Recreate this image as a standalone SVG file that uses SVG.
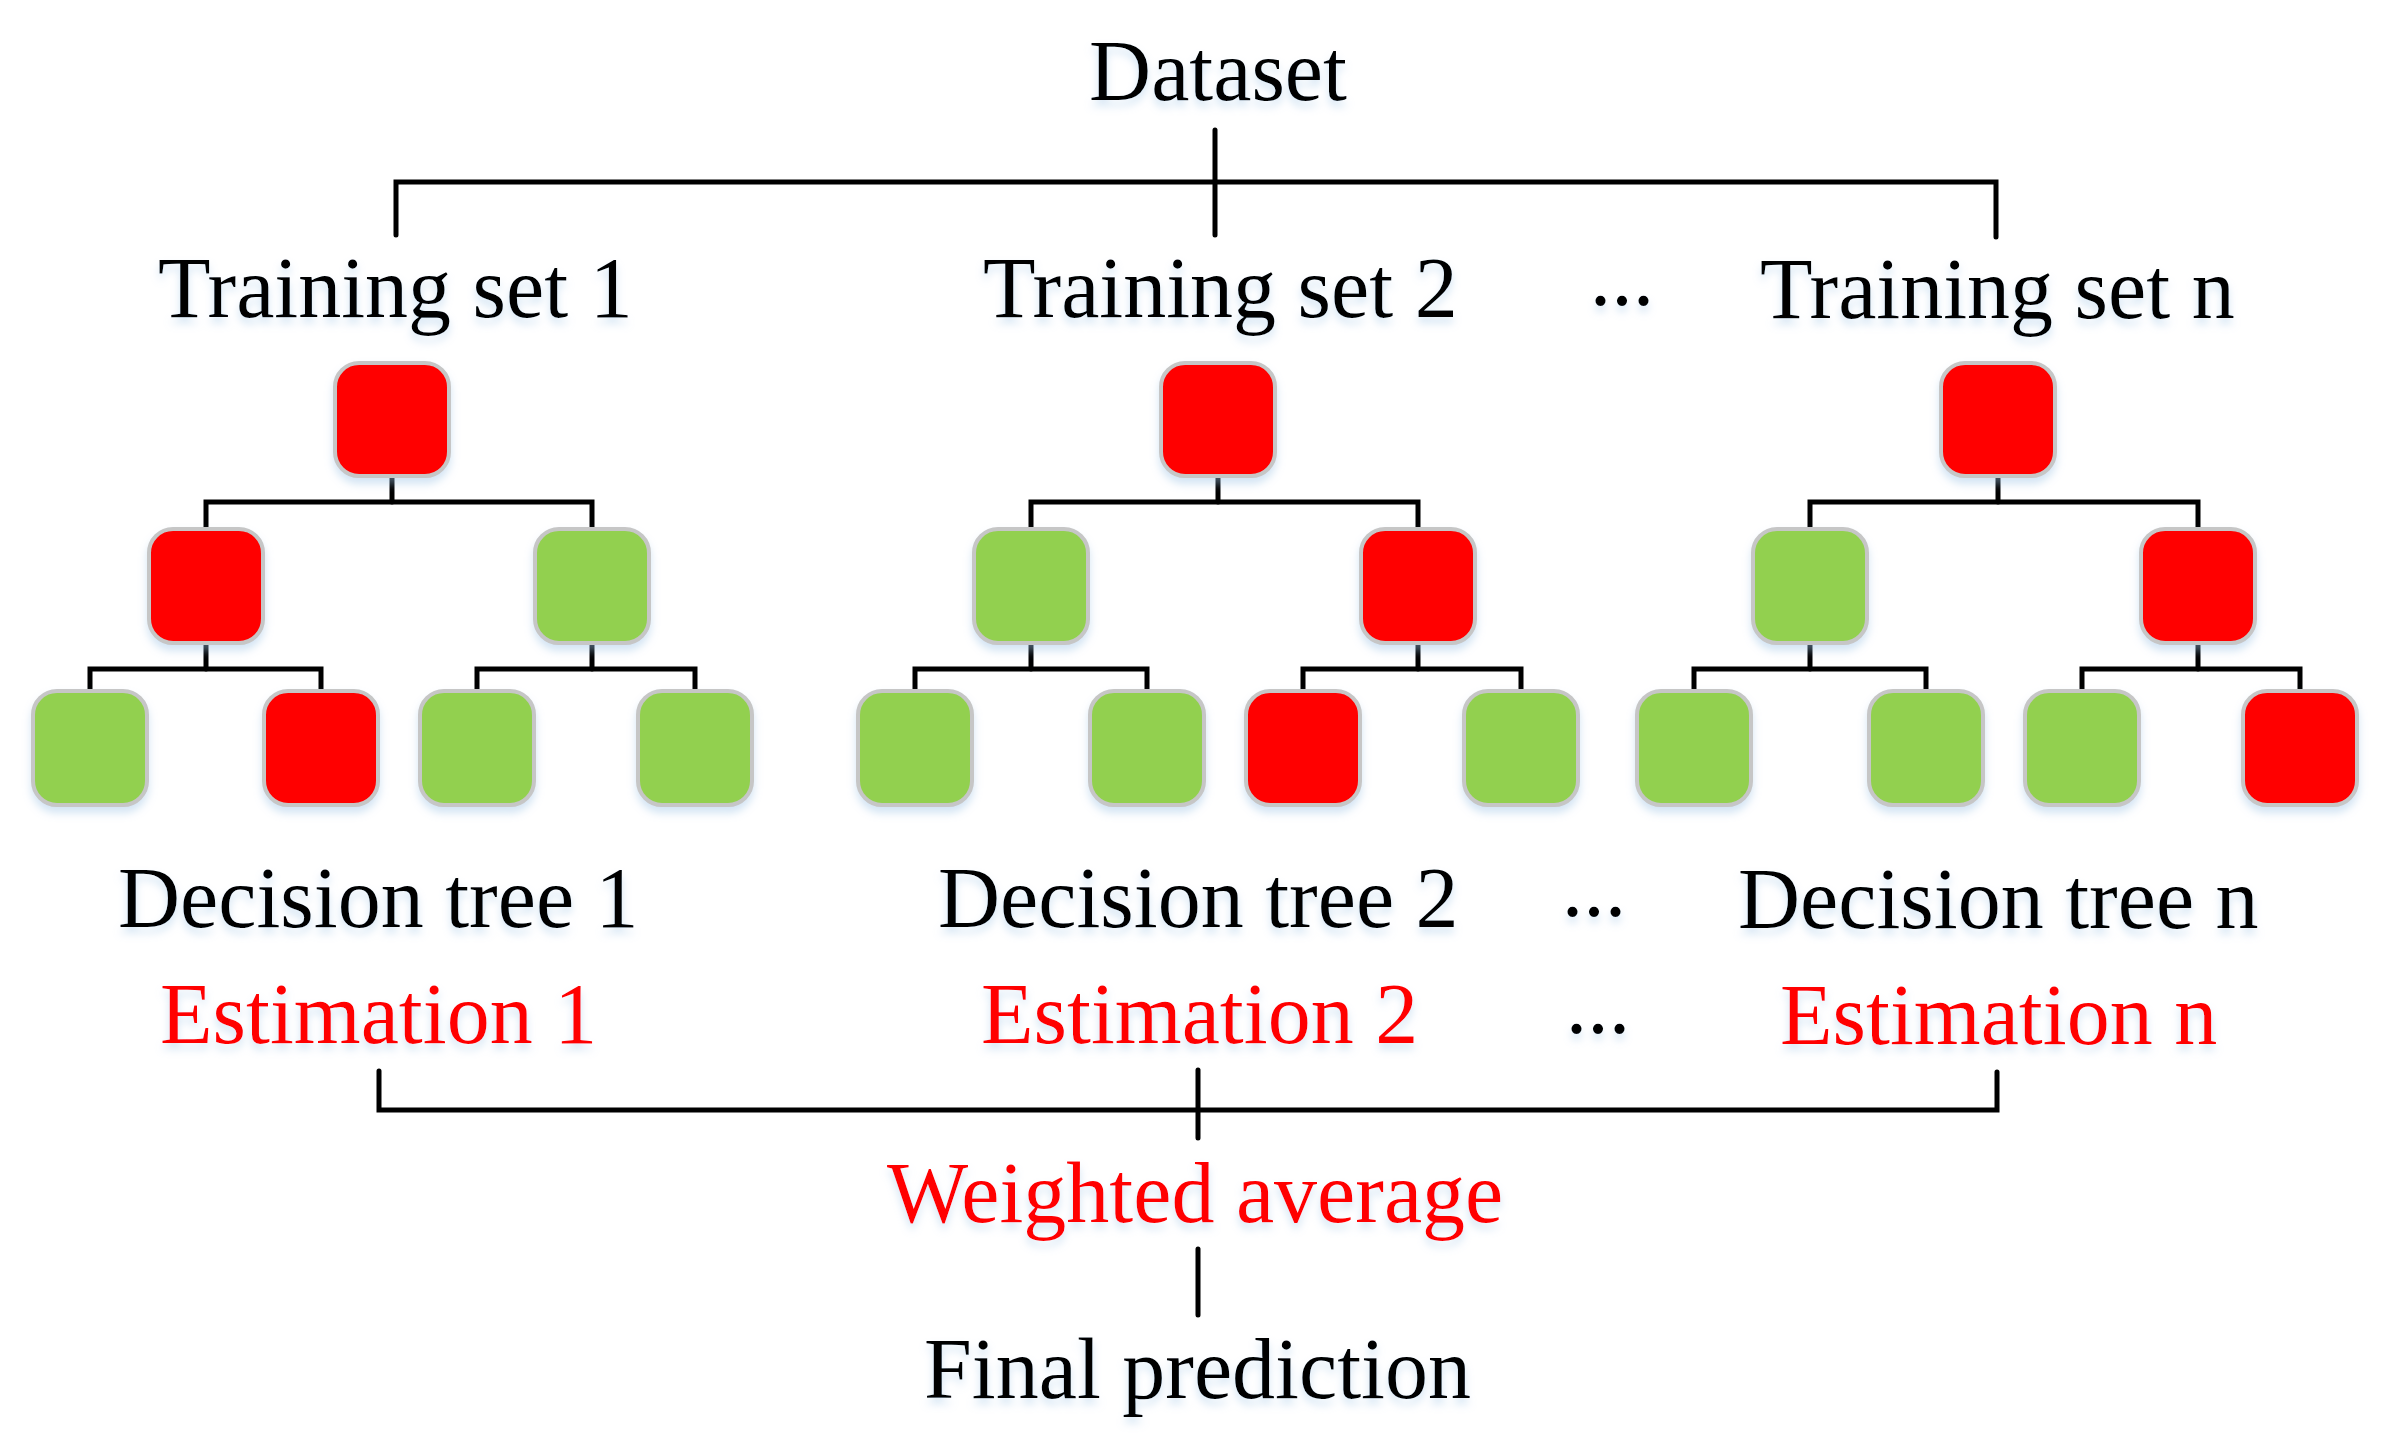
<svg xmlns="http://www.w3.org/2000/svg" width="2387" height="1454" viewBox="0 0 2387 1454">
<defs>
<filter id="sh" x="-20%" y="-20%" width="140%" height="160%">
<feGaussianBlur in="SourceAlpha" stdDeviation="4"/>
<feOffset dy="6" result="b"/>
<feFlood flood-color="#9dc3e6" flood-opacity="0.45"/>
<feComposite in2="b" operator="in"/>
<feMerge><feMergeNode/><feMergeNode in="SourceGraphic"/></feMerge>
</filter>
</defs>
<style>
.t{font-family:"Liberation Serif","Times New Roman",serif;font-size:86px;fill:#000}
.r{fill:#ff0000}
.n{stroke:#c6c6c6;stroke-width:4;filter:url(#sh)}
.red{fill:#ff0000}
.grn{fill:#92d050}
.c{fill:none;stroke:#000;stroke-width:5;stroke-linejoin:miter;stroke-linecap:round}
text{filter:url(#sh)}
</style>
<rect width="2387" height="1454" fill="#fff"/>

<g id="connectors" class="c">
<path d="M396,235 V182 H1996 V237"/>
<path d="M1215,130 V235"/>
<path d="M379,1071 V1110 H1997 V1072"/>
<path d="M1198,1070 V1138"/>
<path d="M1198,1249 V1315"/>
<!-- tree 1 -->
<path d="M392,477 V502"/><path d="M206,529 V502 H592 V529"/>
<path d="M206,645 V669"/><path d="M90,691 V669 H321 V691"/>
<path d="M592,645 V669"/><path d="M477,691 V669 H695 V691"/>
<!-- tree 2 -->
<path d="M1218,477 V502"/><path d="M1031,529 V502 H1418 V529"/>
<path d="M1031,645 V669"/><path d="M915,691 V669 H1147 V691"/>
<path d="M1418,645 V669"/><path d="M1303,691 V669 H1521 V691"/>
<!-- tree 3 -->
<path d="M1998,477 V502"/><path d="M1810,529 V502 H2198 V529"/>
<path d="M1810,645 V669"/><path d="M1694,691 V669 H1926 V691"/>
<path d="M2198,645 V669"/><path d="M2082,691 V669 H2300 V691"/>
</g>

<g id="tree1">
<g id="t1-root"><rect class="n red" x="335" y="363" width="114" height="113" rx="24"/></g>
<g id="t1-l"><rect class="n red" x="149" y="529" width="114" height="114" rx="24"/></g>
<g id="t1-r"><rect class="n grn" x="535" y="529" width="114" height="114" rx="24"/></g>
<g id="t1-ll"><rect class="n grn" x="33" y="691" width="114" height="114" rx="24"/></g>
<g id="t1-lr"><rect class="n red" x="264" y="691" width="114" height="114" rx="24"/></g>
<g id="t1-rl"><rect class="n grn" x="420" y="691" width="114" height="114" rx="24"/></g>
<g id="t1-rr"><rect class="n grn" x="638" y="691" width="114" height="114" rx="24"/></g>
</g>

<g id="tree2">
<g id="t2-root"><rect class="n red" x="1161" y="363" width="114" height="113" rx="24"/></g>
<g id="t2-l"><rect class="n grn" x="974" y="529" width="114" height="114" rx="24"/></g>
<g id="t2-r"><rect class="n red" x="1361" y="529" width="114" height="114" rx="24"/></g>
<g id="t2-ll"><rect class="n grn" x="858" y="691" width="114" height="114" rx="24"/></g>
<g id="t2-lr"><rect class="n grn" x="1090" y="691" width="114" height="114" rx="24"/></g>
<g id="t2-rl"><rect class="n red" x="1246" y="691" width="114" height="114" rx="24"/></g>
<g id="t2-rr"><rect class="n grn" x="1464" y="691" width="114" height="114" rx="24"/></g>
</g>

<g id="tree3">
<g id="t3-root"><rect class="n red" x="1941" y="363" width="114" height="113" rx="24"/></g>
<g id="t3-l"><rect class="n grn" x="1753" y="529" width="114" height="114" rx="24"/></g>
<g id="t3-r"><rect class="n red" x="2141" y="529" width="114" height="114" rx="24"/></g>
<g id="t3-ll"><rect class="n grn" x="1637" y="691" width="114" height="114" rx="24"/></g>
<g id="t3-lr"><rect class="n grn" x="1869" y="691" width="114" height="114" rx="24"/></g>
<g id="t3-rl"><rect class="n grn" x="2025" y="691" width="114" height="114" rx="24"/></g>
<g id="t3-rr"><rect class="n red" x="2243" y="691" width="114" height="114" rx="24"/></g>
</g>

<g id="labels">
<g id="dataset"><text class="t" x="1218" y="100" text-anchor="middle">Dataset</text></g>
<g id="ts1"><text class="t" x="158" y="317">Training set 1</text></g>
<g id="ts2"><text class="t" x="983" y="317">Training set 2</text></g>
<g id="tsn"><text class="t" x="1760" y="318">Training set n</text></g>
<g id="dots1"><text class="t" x="1622" y="305" text-anchor="middle">...</text></g>
<g id="dt1"><text class="t" x="118" y="927">Decision tree 1</text></g>
<g id="dt2"><text class="t" x="938" y="927">Decision tree 2</text></g>
<g id="dtn"><text class="t" x="1738" y="928">Decision tree n</text></g>
<g id="dots2"><text class="t" x="1594" y="916" text-anchor="middle">...</text></g>
<g id="e1"><text class="t r" x="160" y="1043">Estimation 1</text></g>
<g id="e2"><text class="t r" x="981" y="1043">Estimation 2</text></g>
<g id="en"><text class="t r" x="1780" y="1044">Estimation n</text></g>
<g id="dots3"><text class="t" x="1598" y="1033" text-anchor="middle">...</text></g>
<g id="wavg"><text class="t r" x="887" y="1222">Weighted average</text></g>
<g id="final"><text class="t" x="924" y="1398">Final prediction</text></g>
</g>
</svg>
